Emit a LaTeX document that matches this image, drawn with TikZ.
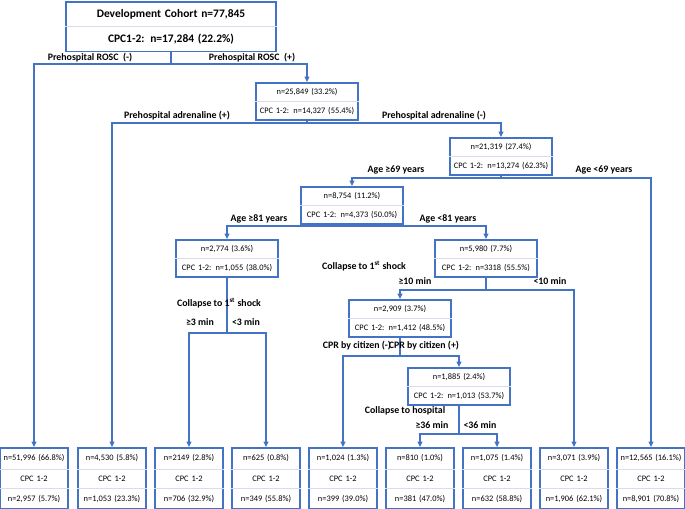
\documentclass[tikz,border=0pt]{standalone}
\usepackage{fontspec}
\setmainfont{Carlito}
\usetikzlibrary{arrows.meta}
\usetikzlibrary{shapes.multipart}
\definecolor{tblue}{RGB}{68,114,196}
\definecolor{tgray}{RGB}{215,222,235}
\tikzset{
  box/.style={draw=tblue,line width=1.3pt,fill=white,rectangle split,rectangle split parts=2,
    rectangle split draw splits=false,anchor=north,inner xsep=1.5pt,inner ysep=3.4pt,
    text width=73pt,align=center,text height=4.6pt,text depth=1.4pt,font=\fontsize{6.3}{7}\selectfont},
  rootbox/.style={box,text width=154pt,inner ysep=4.8pt,text height=6pt,text depth=1.8pt,
    font=\bfseries\fontsize{8.6}{9}\selectfont},
  leaf/.style={box,rectangle split parts=3,text width=48.5pt,inner ysep=4.4pt},
  lab/.style={font=\bfseries\fontsize{7.4}{8}\selectfont,inner sep=0.5pt},
  con/.style={draw=tblue,line width=1.2pt},
  arr/.style={con,-{Triangle[length=4pt,width=3.6pt]}}
}
\newcommand{\splits}[1]{\draw[tgray,line width=0.5pt] (#1.text split west) -- (#1.text split east);}
\newcommand{\splitstwo}[1]{\draw[tgray,line width=0.5pt] (#1.two split west) -- (#1.two split east);}

\begin{document}
\begin{tikzpicture}[x=0.75pt,y=-0.75pt]
\useasboundingbox (0,0) rectangle (685,509);

% tree boxes
\node[rootbox] (root) at (171,1) {Development Cohort n=77,845\nodepart{two}CPC1-2: n=17,284 (22.2\%)};
\node[box] (rosc) at (307,82) {n=25,849 (33.2\%)\nodepart{two}CPC 1-2: n=14,327 (55.4\%)};
\node[box] (adr) at (501,137) {n=21,319 (27.4\%)\nodepart{two}CPC 1-2: n=13,274 (62.3\%)};
\node[box] (age69) at (352,186) {n=8,754 (11.2\%)\nodepart{two}CPC 1-2: n=4,373 (50.0\%)};
\node[box] (age81) at (227,239) {n=2,774 (3.6\%)\nodepart{two}CPC 1-2: n=1,055 (38.0\%)};
\node[box] (young) at (486,239) {n=5,980 (7.7\%)\nodepart{two}CPC 1-2: n=3318 (55.5\%)};
\node[box] (shock) at (400,299) {n=2,909 (3.7\%)\nodepart{two}CPC 1-2: n=1,412 (48.5\%)};
\node[box] (cpr) at (459,367) {n=1,885 (2.4\%)\nodepart{two}CPC 1-2: n=1,013 (53.7\%)};
\foreach \n in {root,rosc,adr,age69,age81,young,shock,cpr} {\splits{\n}}

% leaves
\node[leaf] (l1) at (34,447) {n=51,996 (66.8\%)\nodepart{two}CPC 1-2\nodepart{three}n=2,957 (5.7\%)};
\node[leaf] (l2) at (112,447) {n=4,530 (5.8\%)\nodepart{two}CPC 1-2\nodepart{three}n=1,053 (23.3\%)};
\node[leaf] (l3) at (189,447) {n=2149 (2.8\%)\nodepart{two}CPC 1-2\nodepart{three}n=706 (32.9\%)};
\node[leaf] (l4) at (266,447) {n=625 (0.8\%)\nodepart{two}CPC 1-2\nodepart{three}n=349 (55.8\%)};
\node[leaf] (l5) at (343,447) {n=1,024 (1.3\%)\nodepart{two}CPC 1-2\nodepart{three}n=399 (39.0\%)};
\node[leaf] (l6) at (420,447) {n=810 (1.0\%)\nodepart{two}CPC 1-2\nodepart{three}n=381 (47.0\%)};
\node[leaf] (l7) at (497,447) {n=1,075 (1.4\%)\nodepart{two}CPC 1-2\nodepart{three}n=632 (58.8\%)};
\node[leaf] (l8) at (574,447) {n=3,071 (3.9\%)\nodepart{two}CPC 1-2\nodepart{three}n=1,906 (62.1\%)};
\node[leaf] (l9) at (651,447) {n=12,565 (16.1\%)\nodepart{two}CPC 1-2\nodepart{three}n=8,901 (70.8\%)};
\foreach \n in {l1,l2,l3,l4,l5,l6,l7,l8,l9} {\splits{\n}\splitstwo{\n}}

% connectors
\draw[con] (root.south) -- (root.south |- 0,64) coordinate (s1);
\draw[arr] (s1) -| (l1.north);
\draw[arr] (s1) -| (rosc.north);
\draw[con] (rosc.south) -- (rosc.south |- 0,123) coordinate (s2);
\draw[arr] (s2) -| (l2.north);
\draw[arr] (s2) -| (adr.north);
\draw[con] (adr.south) -- (adr.south |- 0,178) coordinate (s3);
\draw[arr] (s3) -| (age69.north);
\draw[arr] (s3) -| (l9.north);
\draw[con] (age69.south) -- (age69.south |- 0,226) coordinate (s4);
\draw[arr] (s4) -| (age81.north);
\draw[arr] (s4) -| (young.north);
\draw[con] (age81.south) -- (age81.south |- 0,333) coordinate (s5);
\draw[arr] (s5) -| (l3.north);
\draw[arr] (s5) -| (l4.north);
\draw[con] (young.south) -- (young.south |- 0,290) coordinate (s6);
\draw[arr] (s6) -| (shock.north);
\draw[arr] (s6) -| (l8.north);
\draw[con] (shock.south) -- (shock.south |- 0,356) coordinate (s7);
\draw[arr] (s7) -| (l5.north);
\draw[arr] (s7) -| (cpr.north);
\draw[con] (cpr.south) -- (cpr.south |- 0,434) coordinate (s8);
\draw[arr] (s8) -| (l6.north);
\draw[arr] (s8) -| (l7.north);

% labels
\node[lab] (roscn) at (90,58) {Prehospital ROSC~ (-)};
\node[lab] (roscp) at (252,58) {Prehospital ROSC~ (+)};
\node[lab] (adrp) at (177,116) {Prehospital adrenaline (+)};
\node[lab] (adrn) at (434,116) {Prehospital adrenaline (-)};
\node[lab] (a69) at (396,170) {Age ≥69 years};
\node[lab] (y69) at (604,170) {Age <69 years};
\node[lab] (a81) at (259,219) {Age ≥81 years};
\node[lab] (y81) at (448,219) {Age <81 years};
\node[lab] (cs1) at (364,266) {Collapse to 1\textsuperscript{st} shock};
\node[lab] (m10) at (415,281) {≥10 min};
\node[lab] (n10) at (550,281) {<10 min};
\node[lab] (cs2) at (219,303) {Collapse to 1\textsuperscript{st} shock};
\node[lab] (m3) at (200,322) {≥3 min};
\node[lab] (n3) at (246,322) {<3 min};
\node[lab] (cprn) at (357,346) {CPR by citizen (-)};
\node[lab] (cprp) at (424,346) {CPR by citizen (+)};
\node[lab] (ch) at (405,411) {Collapse to hospital};
\node[lab] (m36) at (432,425) {≥36 min};
\node[lab] (n36) at (480,425) {<36 min};

\end{tikzpicture}
\end{document}
